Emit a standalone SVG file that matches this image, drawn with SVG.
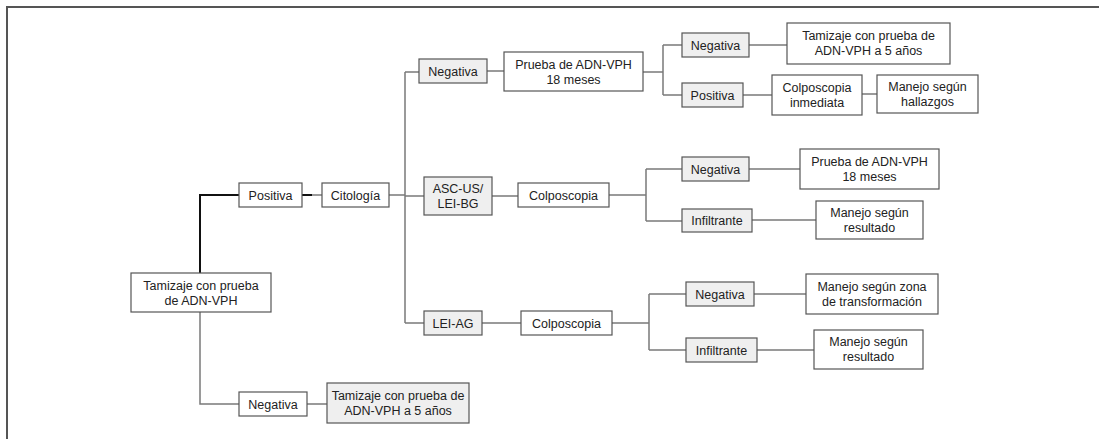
<svg xmlns="http://www.w3.org/2000/svg" width="1099" height="439" viewBox="0 0 1099 439">
<style>
.w{fill:#ffffff;stroke:#555555;stroke-width:1.2}
.g{fill:#efefef;stroke:#555555;stroke-width:1.2}
text{font-family:"Liberation Sans",Arial,sans-serif;font-size:12.5px;fill:#222222;text-anchor:middle}
.c{fill:none;stroke:#7a7a7a;stroke-width:1.5}
.k{fill:none;stroke:#111111;stroke-width:2}
.f{fill:none;stroke:#555555;stroke-width:2}
</style>
<g id="frame"><path class="f" d="M7,7 H1099 M7,6 V439"/></g>
<g id="connectors">
<path class="k" d="M239,195 H200 V273 M302,195 H312"/>
<path class="c" d="M312,195 H322"/>
<path class="c" d="M200,312 V404 H239 M307,404 H327"/>
<path class="c" d="M389,195 H405 M405,72 V323 M405,72 H419 M405,196 H424 M405,323 H424"/>
<path class="c" d="M487,71 H504 M643,72 H663 M663,45 V95 M663,45 H682 M663,95 H682 M749,45 H787 M743,95 H772 M862,94 H877"/>
<path class="c" d="M492,196 H518 M609,195 H646 M646,169 V221 M646,169 H682 M646,221 H682 M749,169 H800 M752,220 H816"/>
<path class="c" d="M482,323 H521 M612,323 H649 M649,294 V350 M649,294 H686 M649,350 H686 M754,294 H806 M757,350 H814"/>
</g>
<g id="n-tamizaje"><rect class="w" x="131" y="273" width="140" height="39"/><text x="201" y="289.5">Tamizaje con prueba</text><text x="201" y="304.5">de ADN-VPH</text></g>
<g id="n-positiva"><rect class="w" x="239" y="183" width="63" height="24"/><text x="270.5" y="199.5">Positiva</text></g>
<g id="n-citologia"><rect class="w" x="322" y="183" width="67" height="24"/><text x="355.5" y="199.5">Citología</text></g>
<g id="n-negativa-bottom"><rect class="w" x="239" y="392" width="68" height="24"/><text x="273" y="408.5">Negativa</text></g>
<g id="n-tamizaje-5"><rect class="g" x="327" y="383" width="142" height="40"/><text x="398" y="399.5">Tamizaje con prueba de</text><text x="398" y="414.5">ADN-VPH a 5 años</text></g>
<g id="n-negativa-1"><rect class="g" x="419" y="59" width="68" height="24"/><text x="453" y="75.5">Negativa</text></g>
<g id="n-prueba-1"><rect class="w" x="504" y="52" width="139" height="39"/><text x="573.5" y="68.5">Prueba de ADN-VPH</text><text x="573.5" y="83.5">18 meses</text></g>
<g id="n-negativa-1a"><rect class="g" x="682" y="33" width="67" height="24"/><text x="715.5" y="49.5">Negativa</text></g>
<g id="n-positiva-1b"><rect class="g" x="682" y="83" width="61" height="24"/><text x="712.5" y="99.5">Positiva</text></g>
<g id="n-tamizaje-5b"><rect class="w" x="787" y="23" width="163" height="41"/><text x="868.5" y="40">Tamizaje con prueba de</text><text x="868.5" y="55">ADN-VPH a 5 años</text></g>
<g id="n-colpo-inmediata"><rect class="w" x="772" y="75" width="90" height="40"/><text x="817" y="91.5">Colposcopia</text><text x="817" y="106.5">inmediata</text></g>
<g id="n-manejo-hallazgos"><rect class="w" x="877" y="75" width="101" height="38"/><text x="927.5" y="90.5">Manejo según</text><text x="927.5" y="105.5">hallazgos</text></g>
<g id="n-ascus"><rect class="g" x="424" y="177" width="68" height="38"/><text x="458" y="192.5">ASC-US/</text><text x="458" y="207.5">LEI-BG</text></g>
<g id="n-colpo-2"><rect class="w" x="518" y="183" width="91" height="24"/><text x="563.5" y="199.5">Colposcopia</text></g>
<g id="n-negativa-2"><rect class="g" x="682" y="157" width="67" height="24"/><text x="715.5" y="173.5">Negativa</text></g>
<g id="n-infiltrante-2"><rect class="g" x="682" y="209" width="70" height="23"/><text x="717" y="225">Infiltrante</text></g>
<g id="n-prueba-2"><rect class="w" x="800" y="149" width="139" height="40"/><text x="869.5" y="165.5">Prueba de ADN-VPH</text><text x="869.5" y="180.5">18 meses</text></g>
<g id="n-manejo-resultado-2"><rect class="w" x="816" y="201" width="107" height="38"/><text x="869.5" y="216.5">Manejo según</text><text x="869.5" y="231.5">resultado</text></g>
<g id="n-leiag"><rect class="g" x="424" y="311" width="58" height="24"/><text x="453" y="327.5">LEI-AG</text></g>
<g id="n-colpo-3"><rect class="w" x="521" y="311" width="91" height="24"/><text x="566.5" y="327.5">Colposcopia</text></g>
<g id="n-negativa-3"><rect class="g" x="686" y="282" width="68" height="24"/><text x="720" y="298.5">Negativa</text></g>
<g id="n-infiltrante-3"><rect class="g" x="686" y="338" width="71" height="24"/><text x="721.5" y="354.5">Infiltrante</text></g>
<g id="n-manejo-zona"><rect class="w" x="806" y="274" width="132" height="40"/><text x="872" y="290.5">Manejo según zona</text><text x="872" y="305.5">de transformación</text></g>
<g id="n-manejo-resultado-3"><rect class="w" x="814" y="330" width="109" height="39"/><text x="868.5" y="346">Manejo según</text><text x="868.5" y="361">resultado</text></g>
</svg>
